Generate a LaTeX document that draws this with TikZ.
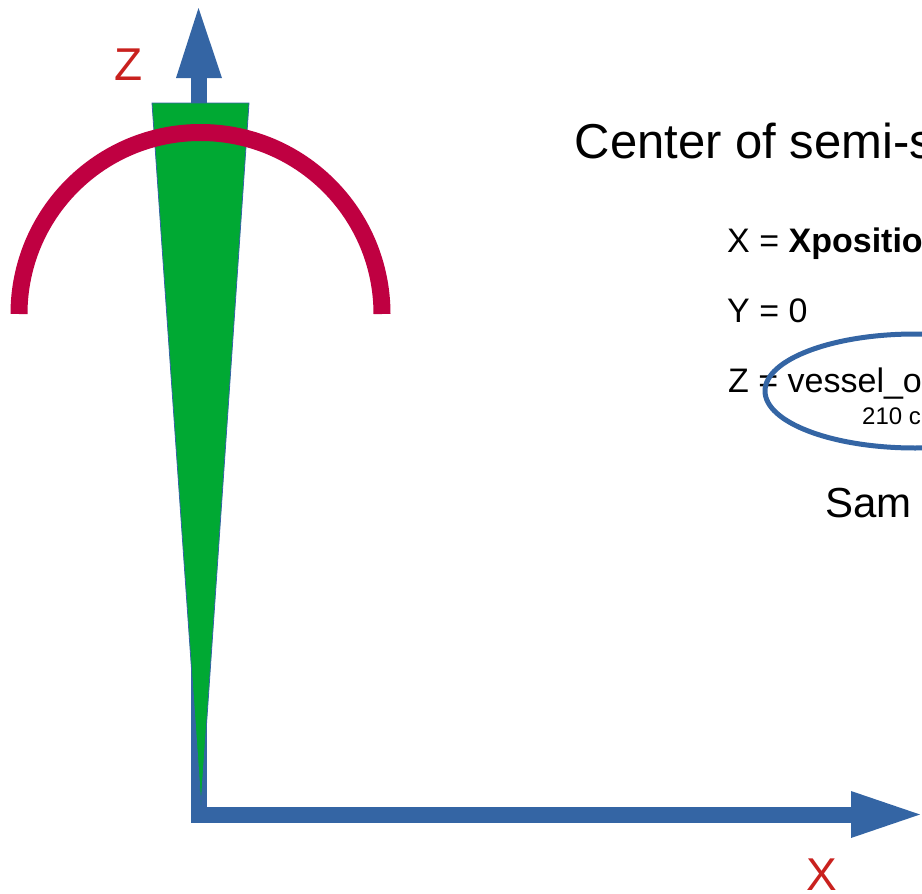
\documentclass[tikz,border=0pt]{standalone}
\usepackage{fontspec}
\setmainfont{Liberation Sans}
\definecolor{axisblue}{RGB}{52,101,164}
\definecolor{wedgegreen}{RGB}{0,169,51}
\definecolor{arcred}{RGB}{191,0,65}
\definecolor{labelred}{RGB}{201,33,30}
\tikzset{
  axisline/.style={draw=axisblue, line width=16pt, line join=miter},
  axishead/.style={fill=axisblue, draw=none},
  wedge/.style={fill=wedgegreen, draw=axisblue, line width=0.8pt, line join=miter},
  semiarc/.style={draw=arcred, line width=17pt},
  ovalmark/.style={draw=axisblue, line width=5pt},
  txt/.style={inner sep=0pt, anchor=base west, text=black},
  axlabel/.style={inner sep=0pt, anchor=base west, text=labelred, font=\fontsize{46}{55}\selectfont},
}
\begin{document}
\begin{tikzpicture}[x=1pt, y=-1pt]
\useasboundingbox (0,0) rectangle (922,894);
\clip (0,0) rectangle (922,894);
% axes
\coordinate (ztop) at (199,78);
\coordinate (origin) at (199,814.5);
\coordinate (xend) at (851,814.5);
\draw[axisline] (ztop) -- (origin) -- (xend);
\fill[axishead] (176,78) -- (222,78) -- (198.5,8) -- cycle;
\fill[axishead] (851,791) -- (851,838) -- (920,814.5) -- cycle;
% wedge
\draw[wedge] (152,103) -- (249,103) -- (201,805) -- cycle;
% semicircle arc
\draw[semiarc] (19,314) arc[start angle=180, end angle=360, radius=181.5];
% labels
\node[axlabel] (zlab) at (114,80) {Z};
\node[axlabel] (xlab) at (806,890) {X};
\node[txt, font=\fontsize{49}{59}\selectfont] (title) at (574.5,158) {Center of semi-s};
\node[txt, font=\fontsize{34}{41}\selectfont] (xeq) at (727,252) {X = \textbf{Xpositio}};
\node[txt, font=\fontsize{34}{41}\selectfont] (yeq) at (727,322) {Y = 0};
\node[txt, font=\fontsize{34}{41}\selectfont] (zeq) at (728,392) {Z = vessel\_o};
\node[txt, font=\fontsize{24}{29}\selectfont] (zval) at (862,424) {210 c};
\node[txt, font=\fontsize{42}{50}\selectfont] (samp) at (825,517) {Sam};
% ellipse
\draw[ovalmark] (915,391) ellipse[x radius=150, y radius=57];
\end{tikzpicture}
\end{document}
